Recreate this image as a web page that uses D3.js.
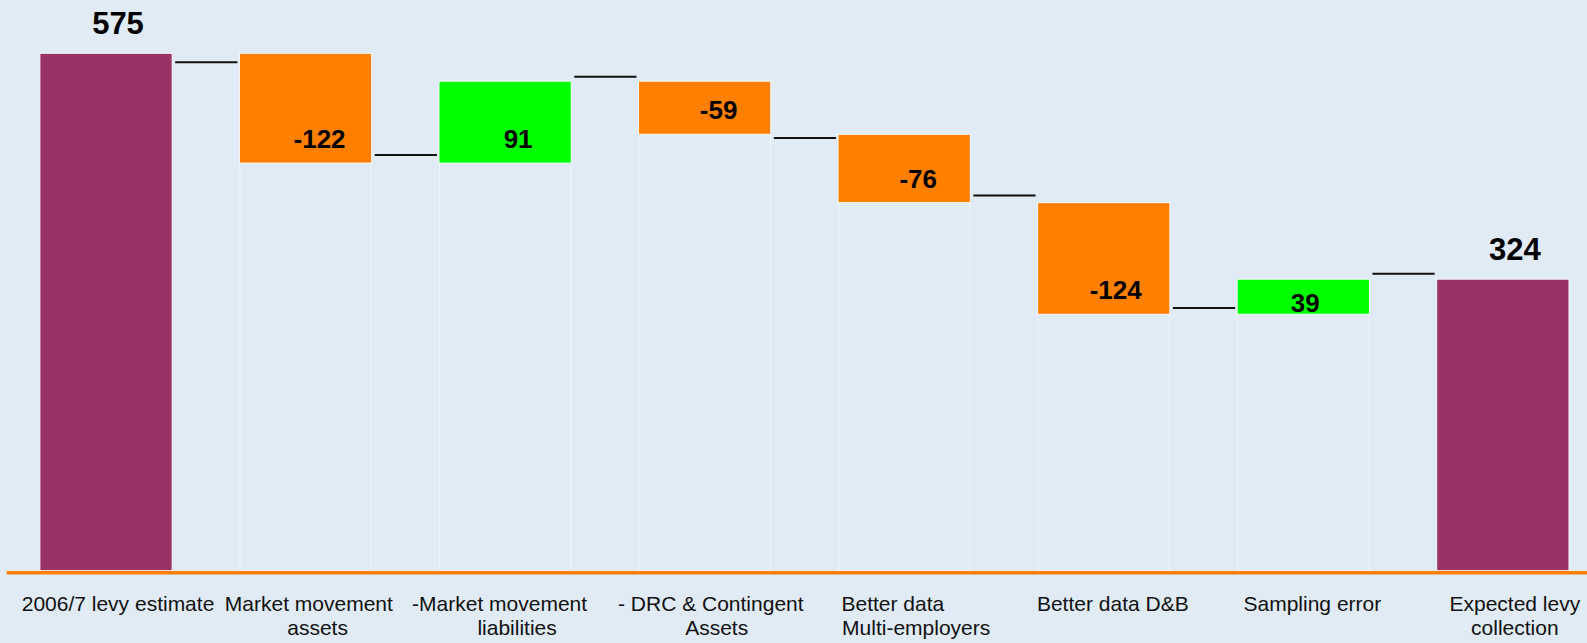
<!DOCTYPE html>
<html>
<head>
<meta charset="utf-8">
<script src="https://cdn.jsdelivr.net/npm/d3@7"></script>
<style>
  html, body { margin: 0; padding: 0; background: #e0ebf5; }
  svg { display: block; }
</style>
</head>
<body>
<svg id="chart" width="1587" height="643"></svg>
<script>
// ---- data ----
const categories = ["2006/7 levy estimate", "Market movement assets", "Market movement liabilities",
  "DRC & Contingent Assets", "Better data Multi-employers", "Better data D&B", "Sampling error", "Expected levy collection"];
const values = [575, -122, 91, -59, -76, -124, 39, 324];
const kinds = ["total", "delta", "delta", "delta", "delta", "delta", "delta", "total"];
const valueLabels = ["575", "-122", "91", "-59", "-76", "-124", "39", "324"];
const tickLabelLines = [
  ["2006/7 levy estimate"],
  ["Market movement   ", "assets"],
  ["-Market movement      ", "liabilities"],
  ["- DRC & Contingent  ", "Assets"],
  ["Better data        ", "Multi-employers"],
  ["Better data D&B "],
  ["Sampling error "],
  ["Expected levy", "collection"]
];
// connector line levels between bars
const connectorLevels = [565, 462, 549, 481, 417, 292, 330];

// ---- layout ----
const W = 1587, H = 643;
const colors = { total: "#993366", up: "#00ff00", down: "#ff8000" };
const labelNudge = [[12, -19], [14, -15], [13, -15], [14, -15], [14, -15], [12, -15], [2, -2], [12, -19]];

const svg = d3.select("#chart");

const x = d3.scaleBand().domain(categories).range([6.25, 1602.6]).paddingInner(0.337).paddingOuter(0.1685);
const y = d3.scaleLinear().domain([0, 575]).range([570.7, 53.3]);

// build waterfall segments
let running = 0;
const segs = categories.map((c, i) => {
  const v = values[i];
  let lo, hi, color;
  if (kinds[i] === "total") {
    lo = 0; hi = v; color = colors.total; running = v;
  } else {
    const start = running; running = start + v;
    lo = Math.min(start, running); hi = Math.max(start, running);
    color = v >= 0 ? colors.up : colors.down;
  }
  return { c, i, v, lo, hi, color, kind: kinds[i] };
});

// invisible base bars (faint outlines)
svg.append("g").selectAll("rect").data(segs.filter(d => d.lo > 0)).join("rect")
  .attr("x", d => x(d.c) + 0.5)
  .attr("width", x.bandwidth() - 1)
  .attr("y", d => y(d.lo))
  .attr("height", d => y(0) - y(d.lo))
  .attr("fill", "none")
  .attr("stroke", "#eef4fa")
  .attr("stroke-width", 1);

// visible bars
svg.append("g").selectAll("rect").data(segs).join("rect")
  .attr("x", d => x(d.c))
  .attr("width", x.bandwidth())
  .attr("y", d => y(d.hi))
  .attr("height", d => y(d.lo) - y(d.hi))
  .attr("fill", d => d.color)
  .attr("stroke", "#f6f8fb")
  .attr("stroke-width", 1);

// connectors
svg.append("g").selectAll("line").data(connectorLevels).join("line")
  .attr("x1", (d, i) => x(categories[i]) + x.bandwidth() + 3)
  .attr("x2", (d, i) => x(categories[i + 1]) - 2)
  .attr("y1", d => y(d))
  .attr("y2", d => y(d))
  .attr("stroke", "#111")
  .attr("stroke-width", 2);

// axis
const axis = svg.append("g")
  .attr("transform", "translate(0,572.3)")
  .call(d3.axisBottom(x).tickSize(0).tickSizeOuter(0).tickFormat(""));
axis.select(".domain").attr("stroke", "#ff8000").attr("stroke-width", 3.5);

// category labels
const tl = svg.append("g")
  .attr("font-family", "'Liberation Sans', Arial, sans-serif")
  .attr("font-size", 21)
  .attr("fill", "#111")
  .attr("text-anchor", "middle");
categories.forEach((c, i) => {
  const t = tl.append("text")
    .attr("xml:space", "preserve")
    .style("white-space", "pre")
    .attr("x", x(c) + x.bandwidth() / 2 + 12)
    .attr("y", 610.7);
  tickLabelLines[i].forEach((line, k) => {
    t.append("tspan")
      .attr("x", x(c) + x.bandwidth() / 2 + 12)
      .attr("dy", k === 0 ? 0 : 24.3)
      .text(line);
  });
});

// value labels
svg.append("g")
  .attr("font-family", "'Liberation Sans', Arial, sans-serif")
  .attr("font-weight", "bold")
  .attr("fill", "#000")
  .attr("text-anchor", "middle")
  .selectAll("text").data(segs).join("text")
  .attr("font-size", d => d.kind === "total" ? 31 : 26)
  .attr("x", d => x(d.c) + x.bandwidth() / 2 + labelNudge[d.i][0])
  .attr("y", d => (d.kind === "total" ? y(d.hi) : y(d.lo)) + labelNudge[d.i][1])
  .text(d => valueLabels[d.i]);
</script>
</body>
</html>
